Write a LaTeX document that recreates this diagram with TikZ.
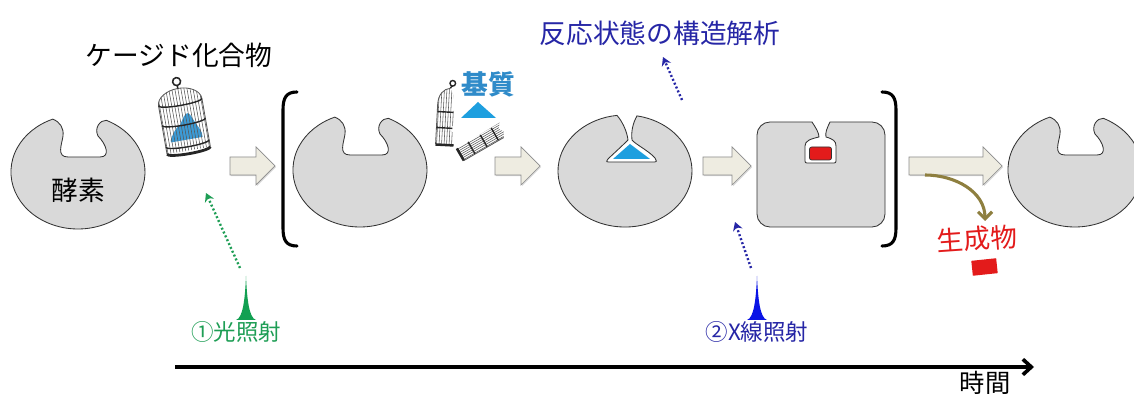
\documentclass[tikz,border=0pt]{standalone}
\usepackage{fontspec}
\setmainfont{Noto Sans CJK JP}
\usepackage{xcolor}
\usepackage{tikz}
\usetikzlibrary{shadows,arrows.meta}

\definecolor{enzgray}{HTML}{D9D9D9}
\definecolor{arrbeige}{HTML}{EEECE1}
\definecolor{subblue}{HTML}{1E9FDF}
\definecolor{kblue}{HTML}{2F8BC9}
\definecolor{dblue}{HTML}{2626A6}
\definecolor{xblue}{HTML}{0A14E6}
\definecolor{lgreen}{HTML}{1E9E55}
\definecolor{pgreen}{HTML}{12A052}
\definecolor{pred}{HTML}{E31B1B}
\definecolor{prodolive}{HTML}{8E7F3F}
\definecolor{birdblue}{HTML}{3C9BD6}

\tikzset{
  enzyme/.style={fill=enzgray,draw=black!80,line width=0.6pt},
  blockarr/.style={fill=arrbeige,draw=black!45,line width=0.5pt,
    drop shadow={opacity=0.3,shadow xshift=0.8pt,shadow yshift=-0.8pt}},
  lbl/.style={inner sep=0pt,font=\fontsize{19}{21}\selectfont},
  lbls/.style={inner sep=0pt,font=\fontsize{16}{18}\selectfont},
  beam/.style={line width=1.7pt,dash pattern=on 1.4pt off 1.6pt,-{Stealth[length=6pt,width=7pt]}},
  bar/.style={draw=black!65,line width=0.4pt},
  ring/.style={draw=black!85,line width=1pt},
  blockarrow/.pic={
    \path[blockarr] (0,-9) -- (#1-19,-9) -- (#1-19,-19) -- (#1,0) -- (#1-19,19) -- (#1-19,9) -- (0,9) -- cycle;
  },
  openenz/.pic={
    \path[enzyme] (-25.1,52.8) .. controls (-18,50) and (-14,44) .. (-15,36)
      .. controls (-16,28) and (-22,15) .. (-10,15) -- (22,15)
      .. controls (33,15) and (28,28) .. (20,36)
      .. controls (16,44) and (22,52) .. (28.3,51.7)
      arc[start angle=65,end angle=-248,x radius=1.675cm,y radius=1.425cm] -- cycle;
  },
  closeenz/.pic={
    \path[enzyme] (-8.05,55.6) .. controls (-3,50) and (2,40) .. (3,31)
      .. controls (-4,24) and (-14,15) .. (-17,12) .. controls (-19,9) .. (-14,9)
      -- (27,9) .. controls (32,9) .. (30,13)
      .. controls (24,20) and (10,27) .. (7,31)
      .. controls (6,40) and (8,48) .. (11.98,55.1)
      arc[start angle=79.7,end angle=-263.1,x radius=1.675cm,y radius=1.4cm] -- cycle;
    \fill[subblue] (5,27) -- (-12,12) -- (25,12) -- cycle;
  },
  cage/.pic={
    \fill[birdblue] (-16,-20) .. controls (-12,-12) and (-8,-8) .. (-4,-6)
      .. controls (-1,-2) and (2,4) .. (5,4) .. controls (8,4) and (9,-2) .. (11,-6)
      .. controls (13,-10) and (15,-14) .. (16,-18) -- (16,-22) -- (-16,-22) -- cycle;
    \begin{scope}
      \clip (-22,-33) -- (-22,16) arc[start angle=180,end angle=0,x radius=0.55cm,y radius=0.35cm] -- (22,-33) -- cycle;
      \foreach \bx in {-21,-18,...,21}
        \draw[bar] (\bx,-34) -- (\bx,31);
    \end{scope}
    \draw[bar,line width=0.6pt] (-22,-33) -- (-22,16) arc[start angle=180,end angle=0,x radius=0.55cm,y radius=0.35cm] -- (22,-33);
    \foreach \ry in {16,-4,-26}
      \draw[ring] (-22,\ry) arc[start angle=180,end angle=360,x radius=0.55cm,y radius=0.08cm];
    \draw[line width=2pt,black!85] (-22,-33) arc[start angle=180,end angle=360,x radius=0.55cm,y radius=0.08cm];
    \draw[line width=1.1pt,black!85] (0,30) -- (0,33) (0,37) circle[radius=0.1cm];
  }
}

\begin{document}
\begin{tikzpicture}[x=0.025cm,y=0.025cm]
\useasboundingbox (0,0) rectangle (1134,394);
\fill[white] (0,0) rectangle (1134,394);

\pic (e1) at (78,222) {openenz};
\node[lbl] (enz) at (78,204) {酵素};
\node[lbl] (caged) at (179,339) {ケージド化合物};
\pic[rotate=10] (cg) at (183,276) {cage};

\pic (a1) at (230,228) {blockarrow=45};

\draw[line width=2.2pt,line cap=round] (297,302) .. controls (286,302) and (283,296) .. (283,284) -- (283,166) .. controls (283,154) and (286,148) .. (297,148);
\draw[line width=2.2pt,line cap=round] (882,302) .. controls (893,302) and (896,296) .. (896,284) -- (896,166) .. controls (896,154) and (893,148) .. (882,148);

\pic (e2) at (360,224) {openenz};

\begin{scope}[shift={(446,277)},rotate=-3]
  \begin{scope}
    \clip (-9,-28) -- (-9,12) .. controls (-9,22) and (-4,28) .. (3,29) -- (7,22) -- (5,10) -- (9,2) -- (7,-10) -- (9,-28) -- cycle;
    \foreach \bx in {-8,-5.5,...,9}
      \draw[bar] (\bx,-29) -- (\bx,30);
  \end{scope}
  \draw[bar,line width=0.6pt] (-9,-28) -- (-9,12) .. controls (-9,22) and (-4,28) .. (3,29);
  \draw[ring] (-9,5) -- (7,5) (-9,-11) -- (7,-11);
  \draw[line width=1.8pt,black!85] (-9,-28) -- (9,-28);
  \draw[line width=1pt,black!85] (3,29) -- (4,31) (5,34) circle[radius=0.07cm];
\end{scope}
\begin{scope}[shift={(482,252)},rotate=30]
  \begin{scope}
    \clip (-25,-7) -- (21,-7) -- (24,-2) -- (21,3) -- (25,8) -- (-25,7) -- cycle;
    \foreach \by in {-6,-4,...,8}
      \draw[bar] (-26,\by) -- (26,\by);
  \end{scope}
  \draw[ring] (-12,-7) -- (-12,7) (2,-7) -- (2,7) (15,-7) -- (15,7.5);
  \draw[line width=1.8pt,black!85] (-25,-7) -- (-25,7);
  \draw[bar,line width=0.6pt] (-25,-7) -- (21,-7);
\end{scope}
\fill[subblue] (461,276) -- (478,292) -- (496,276) -- cycle;
\node[lbl,text=kblue,font=\fontsize{19}{21}\selectfont\bfseries] (sub) at (488,310) {基質};

\pic (a2) at (495,228) {blockarrow=45};
\pic (e3) at (625,223) {closeenz};
\pic (a3) at (703,228) {blockarrow=48};

\draw[enzyme] (830,272) .. controls (827,266) and (825,261) .. (826,257)
  .. controls (833,255) and (836,253) .. (836,248) -- (836,235) .. controls (836,231) .. (832,231)
  -- (809,231) .. controls (805,231) .. (805,235) -- (805,248)
  .. controls (805,253) and (810,255) .. (819,257) .. controls (819,261) and (816,266) .. (812,272)
  -- (770,272) arc[start angle=90,end angle=180,radius=0.325cm]
  -- (757,180) arc[start angle=180,end angle=270,radius=0.325cm]
  -- (872,167) arc[start angle=270,end angle=360,radius=0.325cm]
  -- (885,259) arc[start angle=0,end angle=90,radius=0.325cm] -- cycle;
\draw[fill=pred,draw=black!80,line width=0.5pt,rounded corners=1.5pt] (809.5,247) rectangle (831.5,234);

\node[lbl,text=dblue] (anal) at (660,361) {反応状態の構造解析};
\coordinate (anfrom) at (682,294);
\coordinate (anto) at (663,337);
\draw[beam,dblue] (anfrom) -- (anto);

\pic (a4) at (909,228) {blockarrow=93};
\pic (e4) at (1075,224) {openenz};

\node[lbl,text=pred,rotate=4] (prod) at (977,155) {生成物};
\fill[pred,rotate around={6:(984.5,127)}] (972,119.5) rectangle (997,134.5);
\coordinate (prodfrom) at (925,219);
\coordinate (prodto) at (985,173);
\draw[line width=2.2pt,prodolive,-{Straight Barb[length=5pt,width=10pt]}] (prodfrom) to[out=0,in=90] (prodto);

\fill[pgreen] (236,74) .. controls (243,76) and (245,95) .. (246,118) .. controls (247,95) and (249,76) .. (256,74) -- cycle;
\coordinate (gfrom) at (240,126);
\coordinate (gto) at (206,201);
\draw[beam,lgreen] (gfrom) -- (gto);
\node[lbls,text=lgreen] (light) at (236,62) {①光照射};

\fill[xblue] (747,74) .. controls (754,76) and (756,95) .. (757,118) .. controls (758,95) and (760,76) .. (767,74) -- cycle;
\coordinate (xfrom) at (751,126);
\coordinate (xto) at (735,172);
\draw[beam,dblue] (xfrom) -- (xto);
\node[lbls,text=dblue] (xray) at (757,62) {②X線照射};

\coordinate (t0) at (175,27);
\coordinate (t1) at (1034,27);
\draw[line width=2.6pt,-{Straight Barb[length=6pt,width=11pt]}] (t0) -- (t1);
\node[inner sep=0pt,font=\fontsize{18}{20}\selectfont] (time) at (985,11) {時間};
\end{tikzpicture}
\end{document}
